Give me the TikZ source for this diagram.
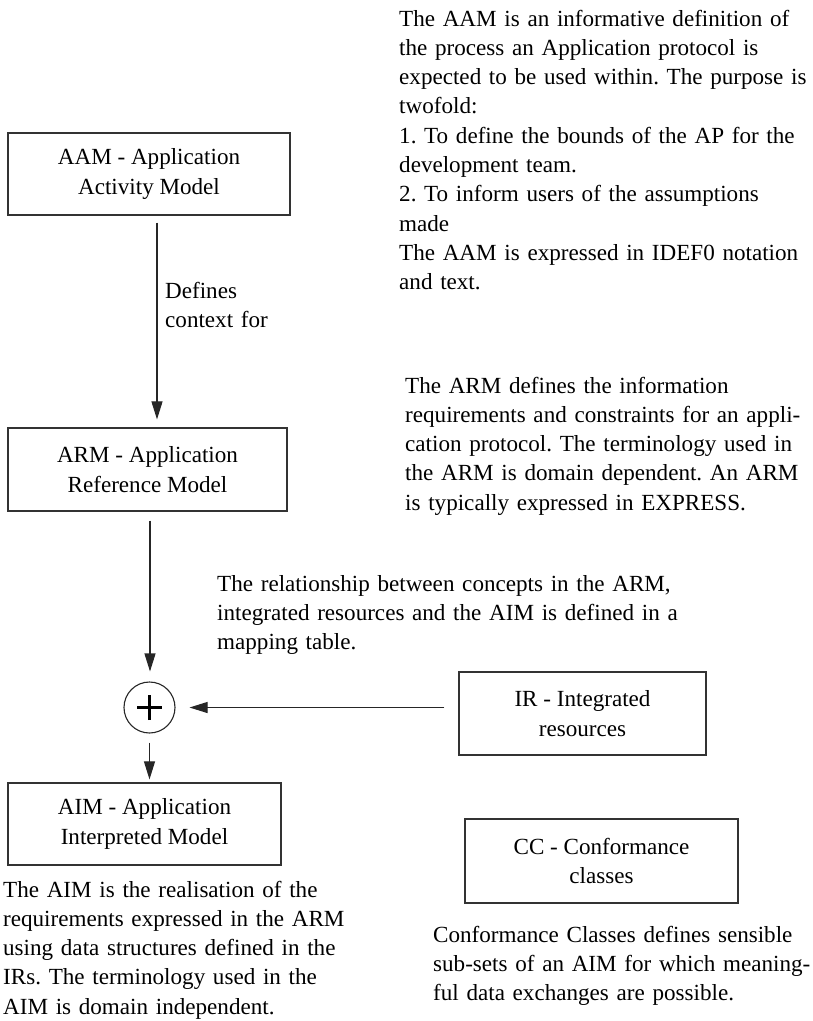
\documentclass[tikz,border=0pt]{standalone}
\usepackage{fontspec}
\setmainfont{Liberation Serif}
\usetikzlibrary{arrows.meta}
\begin{document}
\frenchspacing
\begin{tikzpicture}[x=1pt,y=-1pt,
  every node/.style={inner sep=0pt, font=\fontsize{23.1}{29.3}\selectfont},
  box/.style={rectangle, draw=black!80, line width=1.2pt, align=center},
  note/.style={anchor=base west, align=left, text width=600pt},
  arr/.style={draw=black!85, line width=1.1pt, -{Triangle[length=18pt,width=11pt]}}]
\useasboundingbox (0,0) rectangle (812,1021);

% model boxes
\node[box, minimum width=282pt, minimum height=82pt] (aam) at (149,174) {AAM - Application\\Activity Model};
\node[box, minimum width=279pt, minimum height=83pt] (arm) at (147.5,469.5) {ARM - Application\\Reference Model};
\node[box, minimum width=273pt, minimum height=82pt] (aim) at (144.5,824) {AIM - Application\\Interpreted Model};
\node[box, minimum width=247pt, minimum height=83pt] (ir) at (582.5,713.5) {IR - Integrated\\resources};
\node[box, minimum width=273pt, minimum height=84pt] (cc) at (601.5,861) {CC - Conformance\\classes};

% combining junction
\node[circle, draw=black!85, line width=1.1pt, minimum size=51pt] (sum) at (149.5,707.5) {};
\draw[line width=3.8pt] ([xshift=-12.5pt]sum.center) -- ([xshift=12.5pt]sum.center)
  ([yshift=-12.5pt]sum.center) -- ([yshift=12.5pt]sum.center);

% connectors
\coordinate (c1) at (157,0);
\coordinate (c2) at (150,0);
\draw[arr, shorten <=7pt, shorten >=8pt] (aam.south -| c1) -- (arm.north -| c1);
\draw[arr, shorten <=9pt, shorten >=10pt] (arm.south -| c2) -- (sum.north -| c2);
\draw[arr, shorten <=9pt, shorten >=3pt] (sum.south) -- (aim.north -| sum.south);
\draw[arr, shorten <=14pt, shorten >=14pt] (ir.west |- sum) -- (sum.east);

% labels and descriptions
\node[note] (defines) at (165,298) {Defines\\context for};
\node[note] (aamnote) at (399,26) {The AAM is an informative definition of\\
the process an Application protocol is\\
expected to be used within. The purpose is\\
twofold:\\
1. To define the bounds of the AP for the\\
development team.\\
2. To inform users of the assumptions\\
made\\
The AAM is expressed in IDEF0 notation\\
and text.};
\node[note] (armnote) at (405,393) {The ARM defines the information\\
requirements and constraints for an appli-\\
cation protocol. The terminology used in\\
the ARM is domain dependent. An ARM\\
is typically expressed in EXPRESS.};
\node[note] (mapnote) at (217,591) {The relationship between concepts in the ARM,\\
integrated resources and the AIM is defined in a\\
mapping table.};
\node[note] (aimnote) at (3,897) {The AIM is the realisation of the\\
requirements expressed in the ARM\\
using data structures defined in the\\
IRs. The terminology used in the\\
AIM is domain independent.};
\node[note] (ccnote) at (433,942) {Conformance Classes defines sensible\\
sub-sets of an AIM for which meaning-\\
ful data exchanges are possible.};
\end{tikzpicture}
\end{document}
